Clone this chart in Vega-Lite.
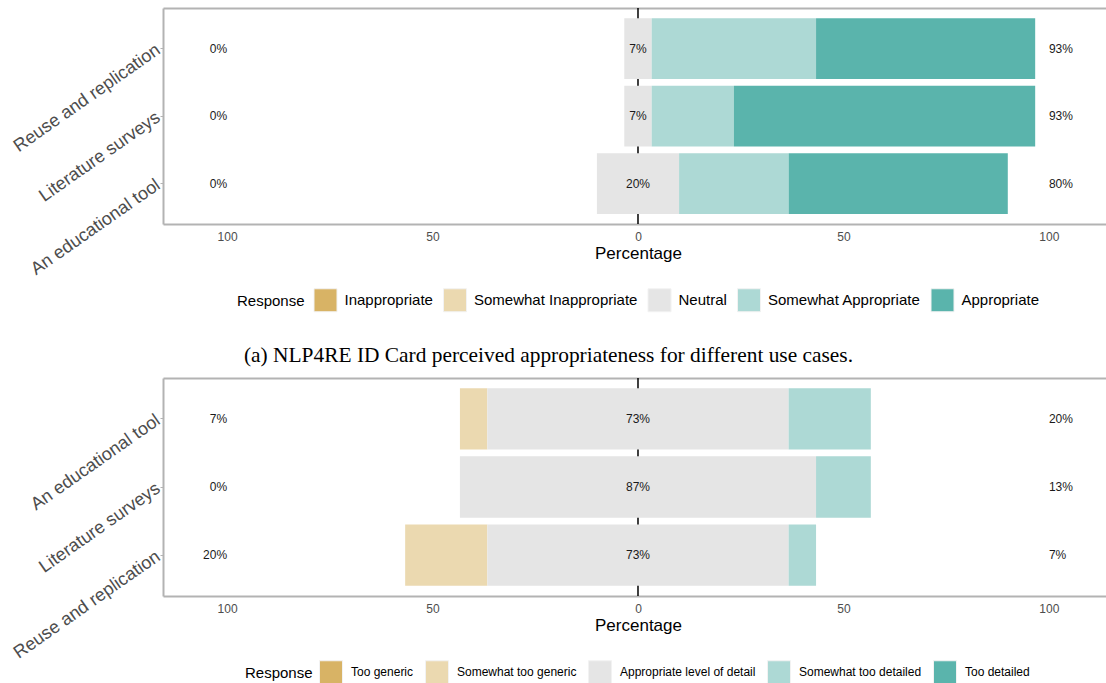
{
  "$schema": "https://vega.github.io/schema/vega-lite/v6.json",
  "padding": {"left": 10, "top": 7, "right": 0, "bottom": 0},
  "spacing": 154,
  "bounds": "flush",
  "resolve": {"scale": {"color": "independent"}, "legend": {"color": "independent"}},
  "config": {
    "font": "Liberation Sans",
    "view": {"stroke": null},
    "axis": {"grid": false}
  },
  "datasets": {
    "appropriateness": [
      {"item": "Reuse and replication", "response": "Neutral", "level": 3, "pct": 6.67},
      {"item": "Reuse and replication", "response": "Somewhat Appropriate", "level": 4, "pct": 40},
      {"item": "Reuse and replication", "response": "Appropriate", "level": 5, "pct": 53.33},
      {"item": "Literature surveys", "response": "Neutral", "level": 3, "pct": 6.67},
      {"item": "Literature surveys", "response": "Somewhat Appropriate", "level": 4, "pct": 20},
      {"item": "Literature surveys", "response": "Appropriate", "level": 5, "pct": 73.33},
      {"item": "An educational tool", "response": "Neutral", "level": 3, "pct": 20},
      {"item": "An educational tool", "response": "Somewhat Appropriate", "level": 4, "pct": 26.67},
      {"item": "An educational tool", "response": "Appropriate", "level": 5, "pct": 53.33}
    ],
    "detail": [
      {"item": "An educational tool", "response": "Somewhat too generic", "level": 2, "pct": 6.67},
      {"item": "An educational tool", "response": "Appropriate level of detail", "level": 3, "pct": 73.33},
      {"item": "An educational tool", "response": "Somewhat too detailed", "level": 4, "pct": 20},
      {"item": "Literature surveys", "response": "Appropriate level of detail", "level": 3, "pct": 86.67},
      {"item": "Literature surveys", "response": "Somewhat too detailed", "level": 4, "pct": 13.33},
      {"item": "Reuse and replication", "response": "Somewhat too generic", "level": 2, "pct": 20},
      {"item": "Reuse and replication", "response": "Appropriate level of detail", "level": 3, "pct": 73.33},
      {"item": "Reuse and replication", "response": "Somewhat too detailed", "level": 4, "pct": 6.67}
    ]
  },
  "vconcat": [
    {
      "width": 943,
      "height": 216,
      "data": {"name": "appropriateness"},
      "resolve": {"axis": {"x": "independent"}},
      "layer": [
        {
          "data": {"values": [{}]},
          "mark": {"type": "rule", "color": "black", "strokeWidth": 1.5},
          "encoding": {
            "x": {"datum": 0, "type": "quantitative",
              "scale": {"domain": [-115.6, 113.9], "nice": false, "zero": false},
              "axis": {"orient": "top", "labels": false, "ticks": false, "title": null, "domainColor": "#b3b3b3", "domainWidth": 2, "grid": false}}
          }
        },
        {
          "transform": [
            {"calculate": "datum.level < 3 ? datum.pct : (datum.level == 3 ? datum.pct / 2 : 0)", "as": "neg"},
            {"stack": "pct", "groupby": ["item"], "sort": [{"field": "level", "order": "ascending"}], "as": ["v1", "v2"]},
            {"joinaggregate": [{"op": "sum", "field": "neg", "as": "offset"}], "groupby": ["item"]},
            {"calculate": "datum.v1 - datum.offset", "as": "x1"},
            {"calculate": "datum.v2 - datum.offset", "as": "x2"}
          ],
          "mark": {"type": "bar"},
          "encoding": {
            "x": {"field": "x1", "type": "quantitative",
              "scale": {"domain": [-115.6, 113.9], "nice": false, "zero": false},
              "axis": {"orient": "bottom", "values": [-100, -50, 0, 50, 100], "labelExpr": "abs(datum.value)", "ticks": false, "tickSize": 0, "domainColor": "#b3b3b3", "domainWidth": 2, "labelFontSize": 12, "labelColor": "#4d4d4d", "labelPadding": 7, "labelFlush": false, "title": "Percentage", "titleFontSize": 17, "titleFontWeight": "normal", "titleColor": "black", "titlePadding": 3, "titleX": 475, "titleAlign": "center", "grid": false}},
            "x2": {"field": "x2"},
            "y": {"field": "item", "type": "nominal",
              "sort": ["Reuse and replication", "Literature surveys", "An educational tool"],
              "scale": {"paddingInner": 0.1, "paddingOuter": 0.15},
              "axis": {"title": null, "domainColor": "#b3b3b3", "domainWidth": 2, "ticks": true, "tickColor": "#b3b3b3", "tickSize": 3, "tickWidth": 1, "labelAngle": -35, "labelAlign": "right", "labelBaseline": "middle", "labelFontSize": 18, "labelColor": "#4d4d4d", "labelPadding": 2, "labelLimit": 400, "grid": false}},
            "color": {"field": "response", "type": "nominal",
              "scale": {"domain": ["Inappropriate", "Somewhat Inappropriate", "Neutral", "Somewhat Appropriate", "Appropriate"],
                "range": ["#D8B365", "#EBD9B0", "#E5E5E5", "#ADD9D5", "#5AB4AC"]},
              "legend": {"orient": "none", "legendX": 74, "legendY": 280, "direction": "horizontal", "title": "Response", "titleOrient": "left", "titleAnchor": "middle", "titleBaseline": "middle", "titleFontSize": 15, "titleFontWeight": "normal", "titleColor": "black", "titlePadding": 8.5, "labelFontSize": 15, "labelColor": "black", "labelLimit": 400, "symbolType": "square", "symbolSize": 529, "symbolStrokeColor": "#f2f2f2", "symbolStrokeWidth": 1, "symbolOpacity": 1, "labelOffset": 7, "columnPadding": 7.5, "padding": 0}}
          }
        },
        {
          "transform": [
            {"calculate": "datum.level < 3 ? datum.pct : 0", "as": "lowp"},
            {"calculate": "datum.level == 3 ? datum.pct : 0", "as": "midp"},
            {"calculate": "datum.level > 3 ? datum.pct : 0", "as": "highp"},
            {"aggregate": [{"op": "sum", "field": "lowp", "as": "low"}, {"op": "sum", "field": "midp", "as": "mid"}, {"op": "sum", "field": "highp", "as": "high"}], "groupby": ["item"]},
            {"calculate": "format(datum.low, '.0f') + '%'", "as": "lowLabel"},
            {"calculate": "format(datum.mid, '.0f') + '%'", "as": "midLabel"},
            {"calculate": "format(datum.high, '.0f') + '%'", "as": "highLabel"}
          ],
          "layer": [
            {
              "mark": {"type": "text", "align": "right", "baseline": "middle", "fontSize": 12, "color": "#1a1a1a"},
              "encoding": {
                "x": {"datum": -100, "type": "quantitative", "axis": null},
                "y": {"field": "item", "type": "nominal", "sort": ["Reuse and replication", "Literature surveys", "An educational tool"]},
                "text": {"field": "lowLabel"}
              }
            },
            {
              "mark": {"type": "text", "align": "center", "baseline": "middle", "fontSize": 12, "color": "#1a1a1a"},
              "encoding": {
                "x": {"datum": 0, "type": "quantitative", "axis": null},
                "y": {"field": "item", "type": "nominal", "sort": ["Reuse and replication", "Literature surveys", "An educational tool"]},
                "text": {"field": "midLabel"}
              }
            },
            {
              "mark": {"type": "text", "align": "left", "baseline": "middle", "fontSize": 12, "color": "#1a1a1a"},
              "encoding": {
                "x": {"datum": 100, "type": "quantitative", "axis": null},
                "y": {"field": "item", "type": "nominal", "sort": ["Reuse and replication", "Literature surveys", "An educational tool"]},
                "text": {"field": "highLabel"}
              }
            }
          ]
        }
      ]
    },
    {
      "width": 943,
      "height": 218,
      "data": {"name": "detail"},
      "title": {"text": "(a) NLP4RE ID Card perceived appropriateness for different use cases.", "font": "Liberation Serif", "fontSize": 21.4, "fontWeight": "normal", "color": "black", "anchor": "middle", "dx": -86, "offset": -6, "baseline": "alphabetic"},
      "resolve": {"axis": {"x": "independent"}},
      "layer": [
        {
          "data": {"values": [{}]},
          "mark": {"type": "rule", "color": "black", "strokeWidth": 1.5},
          "encoding": {
            "x": {"datum": 0, "type": "quantitative",
              "scale": {"domain": [-115.6, 113.9], "nice": false, "zero": false},
              "axis": {"orient": "top", "labels": false, "ticks": false, "title": null, "domainColor": "#b3b3b3", "domainWidth": 2, "grid": false}}
          }
        },
        {
          "transform": [
            {"calculate": "datum.level < 3 ? datum.pct : (datum.level == 3 ? datum.pct / 2 : 0)", "as": "neg"},
            {"stack": "pct", "groupby": ["item"], "sort": [{"field": "level", "order": "ascending"}], "as": ["v1", "v2"]},
            {"joinaggregate": [{"op": "sum", "field": "neg", "as": "offset"}], "groupby": ["item"]},
            {"calculate": "datum.v1 - datum.offset", "as": "x1"},
            {"calculate": "datum.v2 - datum.offset", "as": "x2"}
          ],
          "mark": {"type": "bar"},
          "encoding": {
            "x": {"field": "x1", "type": "quantitative",
              "scale": {"domain": [-115.6, 113.9], "nice": false, "zero": false},
              "axis": {"orient": "bottom", "values": [-100, -50, 0, 50, 100], "labelExpr": "abs(datum.value)", "ticks": false, "tickSize": 0, "domainColor": "#b3b3b3", "domainWidth": 2, "labelFontSize": 12, "labelColor": "#4d4d4d", "labelPadding": 7, "labelFlush": false, "title": "Percentage", "titleFontSize": 17, "titleFontWeight": "normal", "titleColor": "black", "titlePadding": 3, "titleX": 475, "titleAlign": "center", "grid": false}},
            "x2": {"field": "x2"},
            "y": {"field": "item", "type": "nominal",
              "sort": ["An educational tool", "Literature surveys", "Reuse and replication"],
              "scale": {"paddingInner": 0.1, "paddingOuter": 0.15},
              "axis": {"title": null, "domainColor": "#b3b3b3", "domainWidth": 2, "ticks": true, "tickColor": "#b3b3b3", "tickSize": 3, "tickWidth": 1, "labelAngle": -35, "labelAlign": "right", "labelBaseline": "middle", "labelFontSize": 18, "labelColor": "#4d4d4d", "labelPadding": 2, "labelLimit": 400, "grid": false}},
            "color": {"field": "response", "type": "nominal",
              "scale": {"domain": ["Too generic", "Somewhat too generic", "Appropriate level of detail", "Somewhat too detailed", "Too detailed"],
                "range": ["#D8B365", "#EBD9B0", "#E5E5E5", "#ADD9D5", "#5AB4AC"]},
              "legend": {"orient": "none", "legendX": 82, "legendY": 282, "direction": "horizontal", "title": "Response", "titleOrient": "left", "titleAnchor": "middle", "titleBaseline": "middle", "titleFontSize": 15, "titleFontWeight": "normal", "titleColor": "black", "titlePadding": 6, "labelFontSize": 12, "labelColor": "black", "labelLimit": 400, "symbolType": "square", "symbolSize": 529, "symbolStrokeColor": "#f2f2f2", "symbolStrokeWidth": 1, "symbolOpacity": 1, "labelOffset": 8, "columnPadding": 9, "padding": 0}}
          }
        },
        {
          "transform": [
            {"calculate": "datum.level < 3 ? datum.pct : 0", "as": "lowp"},
            {"calculate": "datum.level == 3 ? datum.pct : 0", "as": "midp"},
            {"calculate": "datum.level > 3 ? datum.pct : 0", "as": "highp"},
            {"aggregate": [{"op": "sum", "field": "lowp", "as": "low"}, {"op": "sum", "field": "midp", "as": "mid"}, {"op": "sum", "field": "highp", "as": "high"}], "groupby": ["item"]},
            {"calculate": "format(datum.low, '.0f') + '%'", "as": "lowLabel"},
            {"calculate": "format(datum.mid, '.0f') + '%'", "as": "midLabel"},
            {"calculate": "format(datum.high, '.0f') + '%'", "as": "highLabel"}
          ],
          "layer": [
            {
              "mark": {"type": "text", "align": "right", "baseline": "middle", "fontSize": 12, "color": "#1a1a1a"},
              "encoding": {
                "x": {"datum": -100, "type": "quantitative", "axis": null},
                "y": {"field": "item", "type": "nominal", "sort": ["An educational tool", "Literature surveys", "Reuse and replication"]},
                "text": {"field": "lowLabel"}
              }
            },
            {
              "mark": {"type": "text", "align": "center", "baseline": "middle", "fontSize": 12, "color": "#1a1a1a"},
              "encoding": {
                "x": {"datum": 0, "type": "quantitative", "axis": null},
                "y": {"field": "item", "type": "nominal", "sort": ["An educational tool", "Literature surveys", "Reuse and replication"]},
                "text": {"field": "midLabel"}
              }
            },
            {
              "mark": {"type": "text", "align": "left", "baseline": "middle", "fontSize": 12, "color": "#1a1a1a"},
              "encoding": {
                "x": {"datum": 100, "type": "quantitative", "axis": null},
                "y": {"field": "item", "type": "nominal", "sort": ["An educational tool", "Literature surveys", "Reuse and replication"]},
                "text": {"field": "highLabel"}
              }
            }
          ]
        }
      ]
    }
  ]
}
